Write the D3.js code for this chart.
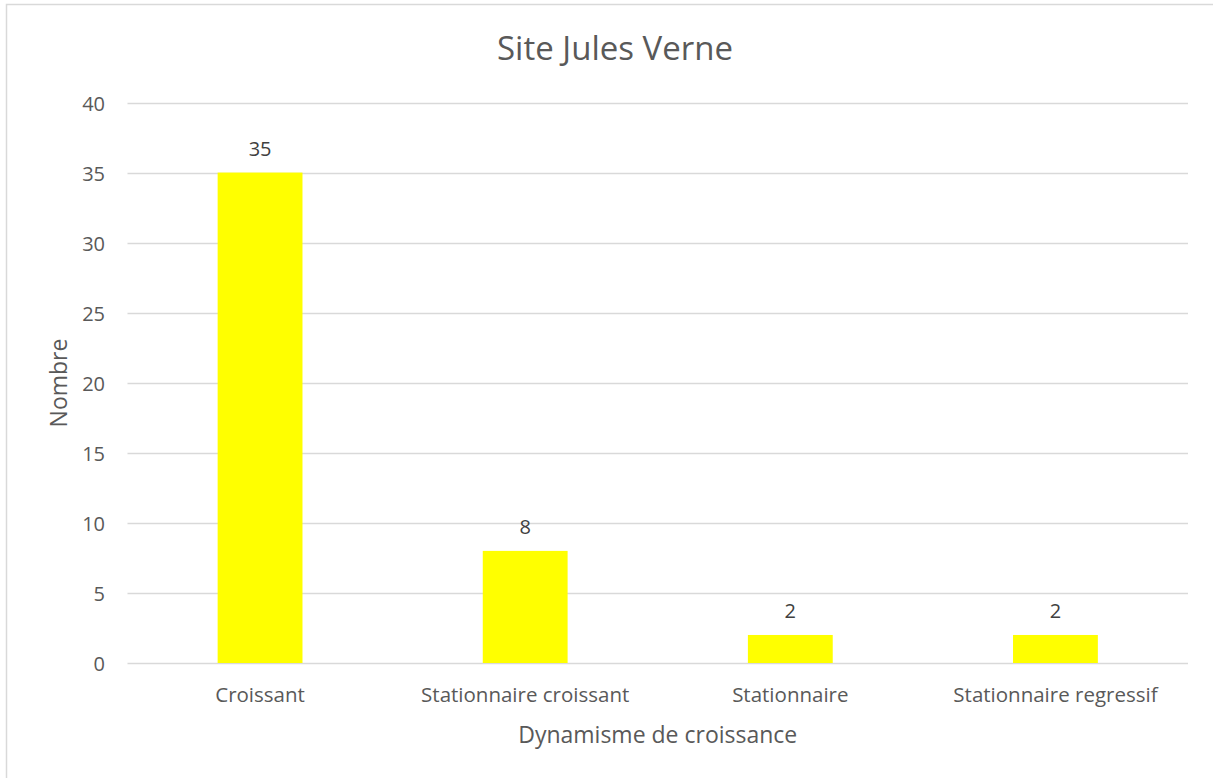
<!DOCTYPE html>
<html>
<head>
<meta charset="utf-8">
<script src="https://d3js.org/d3.v7.min.js"></script>
<style>
  body { margin: 0; background: #fff; }
  text { font-family: "Open Sans", "Noto Sans", sans-serif; fill: #595959; }
</style>
</head>
<body>
<svg width="1213" height="778"></svg>
<script>
const categories = ['Croissant', 'Stationnaire croissant', 'Stationnaire', 'Stationnaire regressif'];
const values = [35, 8, 2, 2];
const yTicks = [0, 5, 10, 15, 20, 25, 30, 35, 40];

const svg = d3.select('svg');
const plotLeft = 127.5, plotRight = 1188, plotTop = 102.5, plotBottom = 663;

// chart border (only left/top are inside the picture)
svg.append('rect').attr('x', 6.5).attr('y', 4.5).attr('width', 1230).attr('height', 800)
   .attr('fill', 'none').attr('stroke', '#d9d9d9').attr('stroke-width', 1.5);

const x = d3.scaleBand().domain(categories).range([plotLeft, plotRight]).paddingInner(0.68).paddingOuter(0.34);
const y = d3.scaleLinear().domain([0, 40]).range([plotBottom, plotTop]);

// grid
svg.append('g').selectAll('line').data(yTicks).join('line')
   .attr('x1', plotLeft).attr('x2', plotRight)
   .attr('y1', d => Math.round(y(d)) + 0.5).attr('y2', d => Math.round(y(d)) + 0.5)
   .attr('stroke', '#d9d9d9').attr('stroke-width', 1.3);

// y tick labels
svg.append('g').selectAll('text').data(yTicks).join('text')
   .attr('x', 105).attr('y', d => y(d) + 8)
   .attr('text-anchor', 'end').style('font-size', '20px').text(d => d);

// bars
svg.append('g').selectAll('rect').data(values).join('rect')
   .attr('x', (d, i) => x(categories[i])).attr('width', x.bandwidth())
   .attr('y', d => y(d)).attr('height', d => y(0) - y(d))
   .attr('fill', '#ffff00');

// value labels
svg.append('g').selectAll('text').data(values).join('text')
   .attr('x', (d, i) => x(categories[i]) + x.bandwidth() / 2)
   .attr('y', d => y(d) - 17)
   .attr('text-anchor', 'middle').style('font-size', '20px').style('fill', '#404040').text(d => d);

// x tick labels
svg.append('g').selectAll('text').data(categories).join('text')
   .attr('x', d => x(d) + x.bandwidth() / 2).attr('y', 702)
   .attr('text-anchor', 'middle').style('font-size', '20.5px').text(d => d);

// axis titles
svg.append('text').attr('x', (plotLeft + plotRight) / 2).attr('y', 743)
   .attr('text-anchor', 'middle').style('font-size', '23px').text('Dynamisme de croissance');
svg.append('text').attr('transform', 'translate(66.5,383) rotate(-90)')
   .attr('text-anchor', 'middle').style('font-size', '23px').text('Nombre');

// title
svg.append('text').attr('x', 615).attr('y', 60)
   .attr('text-anchor', 'middle').style('font-size', '33px').text('Site Jules Verne');
</script>
</body>
</html>
